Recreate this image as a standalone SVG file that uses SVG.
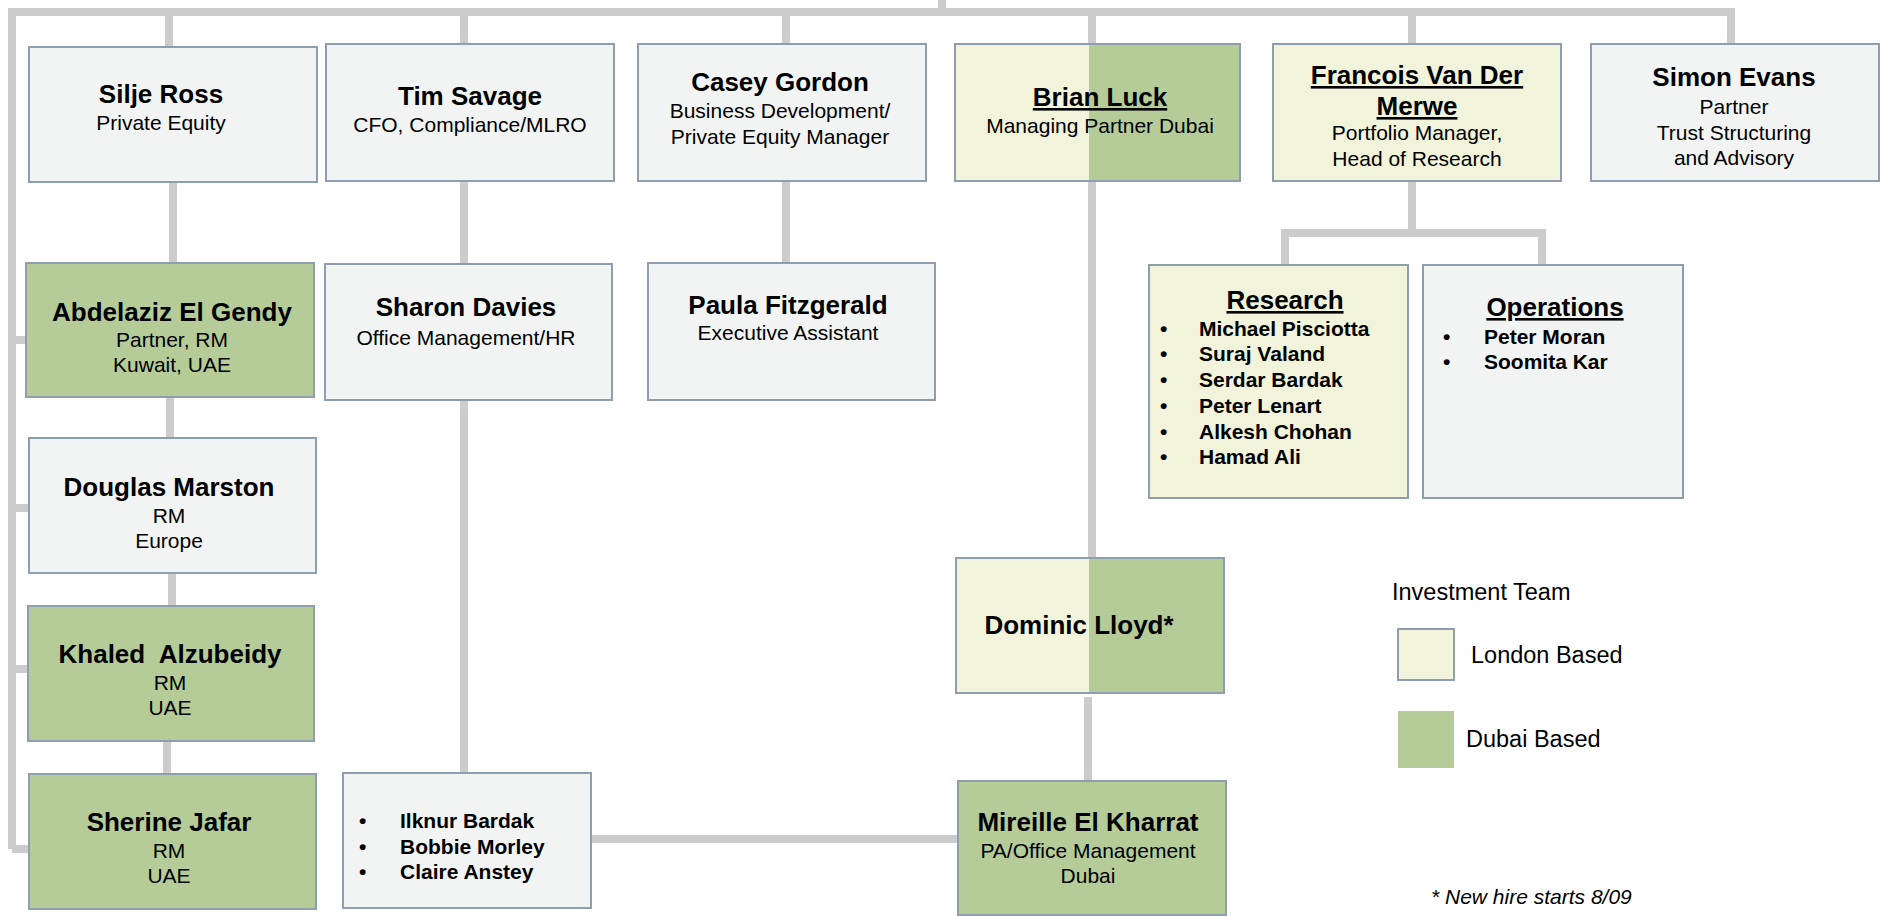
<svg xmlns="http://www.w3.org/2000/svg" width="1881" height="916" viewBox="0 0 1881 916">
<style>
.box{fill:#F2F4F3;stroke:#8E9EAE;stroke-width:2}
.lon{fill:#F1F4DB;stroke:#8E9EAE;stroke-width:2}
.dub{fill:#B5CC98;stroke:#8E9EAE;stroke-width:2}
.half{fill:#B5CC98}
.frame{fill:none;stroke:#8E9EAE;stroke-width:2}
.con{fill:none;stroke:#CCCCCC;stroke-width:8;stroke-linejoin:miter}
text{font-family:"Liberation Sans",Arial,sans-serif;fill:#000}
.nm{font-size:26px;font-weight:bold;text-anchor:middle}
.sb{font-size:21px;text-anchor:middle}
.li{font-size:21px;font-weight:bold}
.ul{text-decoration:underline}
.lg{font-size:23.5px}
</style>
<rect width="1881" height="916" fill="#FFFFFF"/>
<g id="connectors" class="con">
<path d="M942 0 V12"/>
<path d="M12 849 V12 H1731"/>
<path d="M169 12 V47"/>
<path d="M464 12 V44"/>
<path d="M786 12 V44"/>
<path d="M1092 12 V44"/>
<path d="M1412 12 V44"/>
<path d="M1731 8 V44"/>
<path d="M12 340 H26"/>
<path d="M12 508 H29"/>
<path d="M12 669 H28"/>
<path d="M12 849 H29"/>
<path d="M173 182 V263"/>
<path d="M170 397 V438"/>
<path d="M172 573 V606"/>
<path d="M167 741 V774"/>
<path d="M464 181 V264"/>
<path d="M464 400 V773"/>
<path d="M786 181 V263"/>
<path d="M1092 181 V558"/>
<path d="M1088 697 V781"/>
<path d="M591 839 H958"/>
<path d="M1412 181 V233"/>
<path d="M1285 265 V233 H1542 V265"/>
</g>
<g id="silje-ross">
<rect class="box" x="29" y="47" width="288" height="135"/>
<text class="nm" x="161" y="103">Silje Ross</text>
<text class="sb" x="161" y="130">Private Equity</text>
</g>
<g id="tim-savage">
<rect class="box" x="326" y="44" width="288" height="137"/>
<text class="nm" x="470" y="105">Tim Savage</text>
<text class="sb" x="470" y="132">CFO, Compliance/MLRO</text>
</g>
<g id="casey-gordon">
<rect class="box" x="638" y="44" width="288" height="137"/>
<text class="nm" x="780" y="91">Casey Gordon</text>
<text class="sb" x="780" y="118">Business Development/</text>
<text class="sb" x="780" y="144">Private Equity Manager</text>
</g>
<g id="brian-luck">
<rect class="lon" x="955" y="44" width="285" height="137"/>
<rect class="half" x="1089" y="45" width="150" height="135"/>
<rect class="frame" x="955" y="44" width="285" height="137"/>
<text class="nm ul" x="1100" y="106">Brian Luck</text>
<text class="sb" x="1100" y="133">Managing Partner Dubai</text>
</g>
<g id="francois-van-der-merwe">
<rect class="lon" x="1273" y="44" width="288" height="137"/>
<text class="nm ul" x="1417" y="84">Francois Van Der</text>
<text class="nm ul" x="1417" y="115">Merwe</text>
<text class="sb" x="1417" y="140">Portfolio Manager,</text>
<text class="sb" x="1417" y="166">Head of Research</text>
</g>
<g id="simon-evans">
<rect class="box" x="1591" y="44" width="288" height="137"/>
<text class="nm" x="1734" y="86">Simon Evans</text>
<text class="sb" x="1734" y="114">Partner</text>
<text class="sb" x="1734" y="140">Trust Structuring</text>
<text class="sb" x="1734" y="165">and Advisory</text>
</g>
<g id="abdelaziz-el-gendy">
<rect class="dub" x="26" y="263" width="288" height="134"/>
<text class="nm" x="172" y="321">Abdelaziz El Gendy</text>
<text class="sb" x="172" y="347">Partner, RM</text>
<text class="sb" x="172" y="372">Kuwait, UAE</text>
</g>
<g id="sharon-davies">
<rect class="box" x="325" y="264" width="287" height="136"/>
<text class="nm" x="466" y="316">Sharon Davies</text>
<text class="sb" x="466" y="345">Office Management/HR</text>
</g>
<g id="paula-fitzgerald">
<rect class="box" x="648" y="263" width="287" height="137"/>
<text class="nm" x="788" y="314">Paula Fitzgerald</text>
<text class="sb" x="788" y="340">Executive Assistant</text>
</g>
<g id="douglas-marston">
<rect class="box" x="29" y="438" width="287" height="135"/>
<text class="nm" x="169" y="496">Douglas Marston</text>
<text class="sb" x="169" y="523">RM</text>
<text class="sb" x="169" y="548">Europe</text>
</g>
<g id="khaled-alzubeidy">
<rect class="dub" x="28" y="606" width="286" height="135"/>
<text class="nm" x="170" y="663" xml:space="preserve">Khaled  Alzubeidy</text>
<text class="sb" x="170" y="690">RM</text>
<text class="sb" x="170" y="715">UAE</text>
</g>
<g id="sherine-jafar">
<rect class="dub" x="29" y="774" width="287" height="135"/>
<text class="nm" x="169" y="831">Sherine Jafar</text>
<text class="sb" x="169" y="858">RM</text>
<text class="sb" x="169" y="883">UAE</text>
</g>
<g id="admin-team">
<rect class="box" x="343" y="773" width="248" height="135"/>
<text class="li" x="359" y="828">•</text>
<text class="li" x="400" y="828">Ilknur Bardak</text>
<text class="li" x="359" y="854">•</text>
<text class="li" x="400" y="854">Bobbie Morley</text>
<text class="li" x="359" y="879">•</text>
<text class="li" x="400" y="879">Claire Anstey</text>
</g>
<g id="dominic-lloyd">
<rect class="lon" x="956" y="558" width="268" height="135"/>
<rect class="half" x="1089" y="559" width="134" height="133"/>
<rect class="frame" x="956" y="558" width="268" height="135"/>
<text class="nm" x="1079" y="634">Dominic Lloyd*</text>
</g>
<g id="mireille-el-kharrat">
<rect class="dub" x="958" y="781" width="268" height="134"/>
<text class="nm" x="1088" y="831">Mireille El Kharrat</text>
<text class="sb" x="1088" y="858">PA/Office Management</text>
<text class="sb" x="1088" y="883">Dubai</text>
</g>
<g id="research">
<rect class="lon" x="1149" y="265" width="259" height="233"/>
<text class="nm ul" x="1285" y="309">Research</text>
<text class="li" x="1160" y="336">•</text><text class="li" x="1199" y="336">Michael Pisciotta</text>
<text class="li" x="1160" y="361">•</text><text class="li" x="1199" y="361">Suraj Valand</text>
<text class="li" x="1160" y="387">•</text><text class="li" x="1199" y="387">Serdar Bardak</text>
<text class="li" x="1160" y="413">•</text><text class="li" x="1199" y="413">Peter Lenart</text>
<text class="li" x="1160" y="439">•</text><text class="li" x="1199" y="439">Alkesh Chohan</text>
<text class="li" x="1160" y="464">•</text><text class="li" x="1199" y="464">Hamad Ali</text>
</g>
<g id="operations">
<rect class="box" x="1423" y="265" width="260" height="233"/>
<text class="nm ul" x="1555" y="316">Operations</text>
<text class="li" x="1443" y="344">•</text><text class="li" x="1484" y="344">Peter Moran</text>
<text class="li" x="1443" y="369">•</text><text class="li" x="1484" y="369">Soomita Kar</text>
</g>
<g id="legend">
<text class="lg" x="1392" y="600">Investment Team</text>
<rect class="lon" x="1398" y="629" width="56" height="51"/>
<text class="lg" x="1471" y="663">London Based</text>
<rect x="1398" y="711" width="56" height="57" fill="#B5CC98"/>
<text class="lg" x="1466" y="747">Dubai Based</text>
<text x="1431" y="904" font-size="21" font-style="italic">* New hire starts 8/09</text>
</g>
</svg>
